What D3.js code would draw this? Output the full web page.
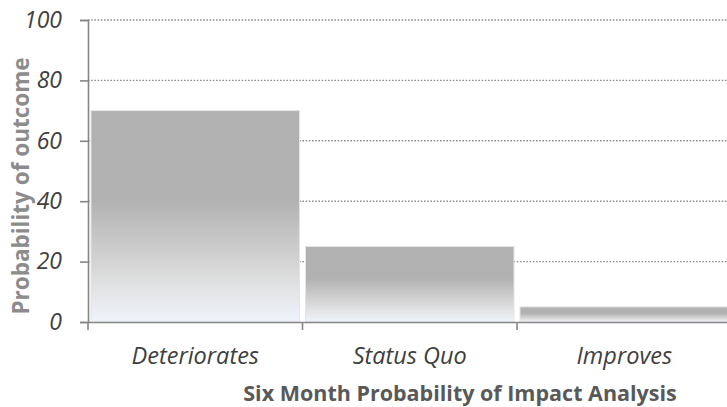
<!DOCTYPE html>
<html><head><meta charset="utf-8">
<script src="https://cdn.jsdelivr.net/npm/d3@7"></script>
<style>body{margin:0;background:#fff}svg{display:block}</style>
</head><body><svg id="c" width="727" height="407"></svg>
<script>
const categories = ["Deteriorates", "Status Quo", "Improves"];
const values = [70, 25, 5];
const yTicks = [0, 20, 40, 60, 80, 100];
const yTitle = "Probability of outcome";
const xTitle = "Six Month Probability of Impact Analysis";

(function () {
const svg = d3.select("#c");
const W = 727, H = 407;
const mLeft = 88, mRight = 731.5, mTop = 20, mBottom = 322;
const FONT = "'Open Sans', 'Noto Sans', sans-serif";

const x = d3.scaleBand().domain(categories).range([mLeft, mRight]);
const y = d3.scaleLinear().domain([0, 100]).range([mBottom, mTop]);

const defs = svg.append("defs");
const g = defs.append("linearGradient").attr("id", "barGrad")
  .attr("x1", 0).attr("y1", 0).attr("x2", 0).attr("y2", 1);
[[0, "#b1b1b1"], [0.42, "#b1b1b1"], [0.7, "#d2d2d2"], [0.88, "#e6e7e9"], [1, "#eef3fc"]]
  .forEach(([o, c]) => g.append("stop").attr("offset", o).attr("stop-color", c));

// gridlines
svg.append("g").selectAll("line").data(yTicks.filter(d => d > 0)).join("line")
  .attr("x1", mLeft).attr("x2", W)
  .attr("y1", d => y(d)).attr("y2", d => y(d))
  .attr("stroke", "#8f8f8f").attr("stroke-width", 1.4)
  .attr("stroke-dasharray", "1.6,1.6");

// bars
const inset = 3;
svg.append("g").selectAll("rect").data(values).join("rect")
  .attr("x", (d, i) => x(categories[i]) + inset)
  .attr("width", x.bandwidth() - 2 * inset)
  .attr("y", d => y(d))
  .attr("height", d => y(0) - y(d))
  .attr("fill", "url(#barGrad)")
  .attr("stroke", "#e4e4e4").attr("stroke-width", 1);

// y axis
const yAxis = svg.append("g").attr("transform", `translate(${mLeft},0)`)
  .call(d3.axisLeft(y).tickValues(yTicks).tickSize(8).tickPadding(18));
yAxis.select(".domain").attr("stroke", "#868686").attr("stroke-width", 1.6);
yAxis.selectAll(".tick line").attr("stroke", "#868686").attr("stroke-width", 1.6);
yAxis.selectAll(".tick text").attr("font-family", FONT).attr("font-style", "italic")
  .attr("font-size", 23).attr("fill", "#404040");

// x axis
const xAxis = svg.append("g").attr("transform", `translate(0,${mBottom})`)
  .call(d3.axisBottom(x).tickSize(0).tickPadding(25));
xAxis.select(".domain").attr("stroke", "#868686").attr("stroke-width", 1.6);
xAxis.selectAll(".tick text").attr("font-family", FONT).attr("font-style", "italic")
  .attr("font-size", 23.5).attr("fill", "#404040");
xAxis.append("g").selectAll("line").data(categories).join("line")
  .attr("x1", d => x(d)).attr("x2", d => x(d))
  .attr("y1", 0).attr("y2", 8)
  .attr("stroke", "#868686").attr("stroke-width", 1.6);

// titles
svg.append("text").attr("transform", `translate(29,186) rotate(-90)`)
  .attr("text-anchor", "middle").attr("font-family", FONT).attr("font-weight", "bold")
  .attr("font-size", 22.5).attr("fill", "#8c8c8c").text(yTitle);

svg.append("text").attr("x", 460).attr("y", 401)
  .attr("text-anchor", "middle").attr("font-family", FONT).attr("font-weight", "bold")
  .attr("font-size", 21.5).attr("fill", "#595959").text(xTitle);
})();
</script></body></html>
